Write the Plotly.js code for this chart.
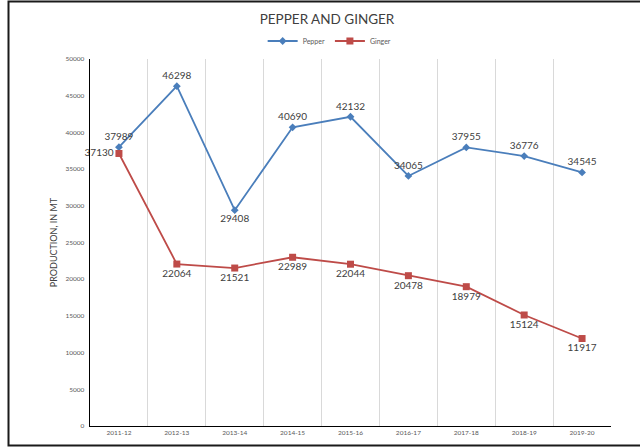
<!DOCTYPE html>
<html>
<head>
<meta charset="utf-8">
<script src="https://cdn.plot.ly/plotly-3.0.1.min.js"></script>
<style>html,body{margin:0;padding:0;background:#fff;}#chart{width:640px;height:447px;}</style>
</head>
<body>
<div id="chart"></div>
<script>
const years = ["2011-12","2012-13","2013-14","2014-15","2015-16","2016-17","2017-18","2018-19","2019-20"];
const pepper = [37989, 46298, 29408, 40690, 42132, 34065, 37955, 36776, 34545];
const ginger = [37130, 22064, 21521, 22989, 22044, 20478, 18979, 15124, 11917];
const pepperPos = ["top center","top center","bottom center","top center","top center","top center","top center","top center","top center"];
const gingerPos = ["middle left","bottom center","bottom center","bottom center","bottom center","bottom center","bottom center","bottom center","bottom center"];

const labelFont = {family: "Lato, 'Open Sans', sans-serif", size: 10, color: "#404040"};

const traces = [
  {
    x: years, y: pepper, name: "Pepper", type: "scatter", mode: "lines+markers+text",
    line: {color: "#4A7EBB", width: 1.8},
    marker: {symbol: "diamond", size: 6, color: "#4A7EBB"},
    text: pepper.map(String), textposition: pepperPos, textfont: labelFont,
    cliponaxis: false
  },
  {
    x: years, y: ginger, name: "Ginger", type: "scatter", mode: "lines+markers+text",
    line: {color: "#BE4B48", width: 1.8},
    marker: {symbol: "square", size: 7, color: "#BE4B48"},
    text: ginger.map(String), textposition: gingerPos, textfont: labelFont,
    cliponaxis: false
  }
];

const layout = {
  width: 640, height: 447,
  margin: {l: 90, r: 29, t: 59, b: 21},
  paper_bgcolor: "#ffffff", plot_bgcolor: "#ffffff",
  font: {family: "Lato, 'Open Sans', sans-serif", color: "#595959"},
  title: {
    text: "PEPPER AND GINGER",
    font: {size: 13.5, color: "#404040", family: "Lato, 'Open Sans', sans-serif"},
    x: 0.511, xref: "container", xanchor: "center",
    y: 0.957, yref: "container", yanchor: "middle"
  },
  showlegend: true,
  legend: {
    orientation: "h", x: 0.46, xanchor: "center", y: 1.049, yanchor: "middle",
    font: {size: 7, color: "#595959"}, itemwidth: 30, bgcolor: "rgba(0,0,0,0)"
  },
  xaxis: {
    type: "category", range: [-0.5, 8.5], fixedrange: true,
    showline: true, linecolor: "#000000", linewidth: 1.3,
    showgrid: true, gridcolor: "#d9d9d9", gridwidth: 1, tickson: "boundaries",
    ticks: "", tickfont: {size: 6.5, color: "#595959"}, zeroline: false
  },
  yaxis: {
    range: [0, 50000], dtick: 5000, tickformat: "d", fixedrange: true,
    showline: true, linecolor: "#000000", linewidth: 1.3,
    showgrid: false, zeroline: false, ticks: "", ticklabelstandoff: 3,
    tickfont: {size: 6.5, color: "#595959"},
    title: {text: "PRODUCTION, IN MT", font: {size: 9, color: "#404040"}, standoff: 6}
  },
  shapes: [
    {type: "rect", xref: "paper", yref: "paper",
     x0: (8.5 - 90) / 521, x1: (660 - 90) / 521,
     y0: (426 - 445.5) / 367, y1: (426 - 1.5) / 367,
     line: {color: "#1a1a1a", width: 2}, fillcolor: "rgba(0,0,0,0)", layer: "above"}
  ]
};

Plotly.newPlot("chart", traces, layout, {displayModeBar: false, staticPlot: true});
</script>
</body>
</html>
